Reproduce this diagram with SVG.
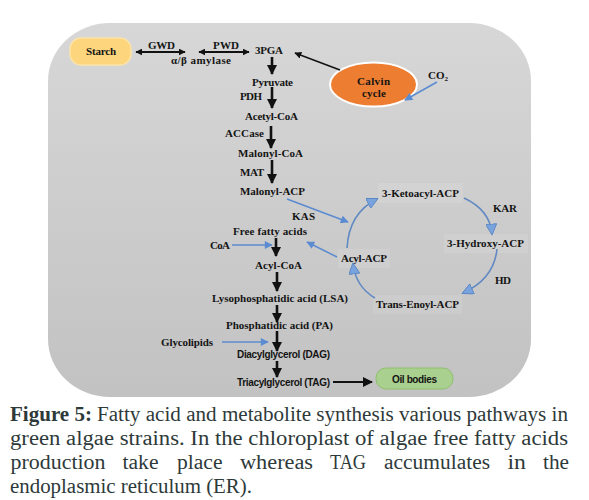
<svg xmlns="http://www.w3.org/2000/svg" width="589" height="500" viewBox="0 0 589 500">
<defs>
<linearGradient id="bg" x1="0" y1="0" x2="0" y2="1">
<stop offset="0" stop-color="#d7d7d7"/>
<stop offset="1" stop-color="#c2c2c2"/>
</linearGradient>
<marker id="bk" viewBox="0 0 10 10" refX="9" refY="5" markerWidth="10" markerHeight="10" markerUnits="userSpaceOnUse" orient="auto"><path d="M0,0 L10,5 L0,10 Z" fill="#111"/></marker>
<marker id="bks" viewBox="0 0 10 10" refX="9" refY="5" markerWidth="7" markerHeight="7" markerUnits="userSpaceOnUse" orient="auto-start-reverse"><path d="M0,0 L10,5 L0,10 Z" fill="#111"/></marker>
<marker id="bl" viewBox="0 0 10 10" refX="9" refY="5" markerWidth="9" markerHeight="8" markerUnits="userSpaceOnUse" orient="auto"><path d="M0,0 L10,5 L0,10 Z" fill="#5b8bd0"/></marker>
<marker id="cy" viewBox="0 0 10 10" refX="9" refY="5" markerWidth="12" markerHeight="11" markerUnits="userSpaceOnUse" orient="auto"><path d="M0,0 L10,5 L0,10 Z" fill="#79a3dc" stroke="#5b86c5" stroke-width="0.8"/></marker>
</defs>
<style>
.t{font-family:"Liberation Serif","Times New Roman",serif;font-weight:bold;font-size:11px;fill:#141414;text-anchor:middle}
.s{font-family:"Liberation Sans",Arial,sans-serif;font-weight:bold;font-size:10px;fill:#141414;text-anchor:middle}
.ba{stroke:#111;stroke-width:2.6;fill:none;marker-end:url(#bk)}
.bd{stroke:#111;stroke-width:1.8;fill:none;marker-end:url(#bks);marker-start:url(#bks)}
.bu{stroke:#5b8bd0;stroke-width:1.5;fill:none;marker-end:url(#bl)}
.cy{stroke:#6189c2;stroke-width:1.6;fill:none;marker-end:url(#cy)}
.hl{fill:#ffffff;opacity:0.1}
.cap{font-family:"Liberation Serif","Times New Roman",serif;font-size:20.5px;fill:#2e3a3a}
</style>
<rect x="48" y="23" width="483" height="374" rx="62" ry="58" fill="url(#bg)"/>
<g id="starch"><rect x="70" y="38" width="61" height="27" rx="11" fill="#fdd57d" stroke="#fbe3a8" stroke-width="1.5"/><text class="t" x="101" y="55" textLength="30">Starch</text></g>
<g id="gwd"><text class="t" x="161.5" y="48.5" textLength="27">GWD</text></g>
<g id="pwd"><text class="t" x="226" y="48.5" textLength="26">PWD</text></g>
<g id="amylase"><text class="t" x="201" y="63.5" textLength="60">α/β amylase</text></g>
<g id="pga"><text class="t" x="269" y="54" textLength="28">3PGA</text></g>
<g id="calvin"><ellipse cx="373.5" cy="84.5" rx="43.5" ry="22" fill="#ed7d31" stroke="#ffffff" stroke-width="2"/><text class="t" x="373.5" y="85" textLength="33">Calvin</text><text class="t" x="374" y="97" textLength="24">cycle</text></g>
<g id="co2"><text class="t" x="428" y="78.5" style="text-anchor:start">CO<tspan font-size="7" dy="2">2</tspan></text></g>
<g id="pyruvate"><text class="t" x="272.5" y="85.5" textLength="41">Pyruvate</text></g>
<g id="pdh"><text class="t" x="251" y="99.5" textLength="22">PDH</text></g>
<g id="acetylcoa"><text class="t" x="271.5" y="119.5" textLength="53">Acetyl-CoA</text></g>
<g id="accase"><text class="t" x="244.5" y="136.5" textLength="39">ACCase</text></g>
<g id="malonylcoa"><text class="t" x="270.5" y="156.5" textLength="65">Malonyl-CoA</text></g>
<g id="mat"><text class="t" x="252" y="175.5" textLength="24">MAT</text></g>
<g id="malonylacp"><text class="t" x="272.5" y="194.5" textLength="65">Malonyl-ACP</text></g>
<g id="kas"><text class="t" x="303.5" y="219.5" textLength="23">KAS</text></g>
<g id="ffa"><text class="t" x="270" y="234.5" textLength="74">Free fatty acids</text></g>
<g id="coa"><text class="t" x="220" y="248.5" textLength="20">CoA</text></g>
<g id="acylcoa"><text class="t" x="278.5" y="268.5" textLength="47">Acyl-CoA</text></g>
<g id="lsa"><text class="t" x="280" y="301.5" textLength="136">Lysophosphatidic acid (LSA)</text></g>
<g id="pa"><text class="t" x="279.5" y="328.5" textLength="107">Phosphatidic acid (PA)</text></g>
<g id="glycolipids"><text class="t" x="187" y="345.5" textLength="52">Glycolipids</text></g>
<g id="dag"><text class="s" x="283.5" y="357.5" textLength="93">Diacylglycerol (DAG)</text></g>
<g id="tag"><text class="s" x="283.5" y="386" textLength="93">Triacylglycerol (TAG)</text></g>
<g id="oilbodies"><rect x="376" y="368" width="77" height="21" rx="10" fill="#a9d08e" stroke="#8fc06e" stroke-width="1"/><text class="s" x="414.5" y="383" textLength="45">Oil bodies</text></g>
<g id="ketoacyl"><rect class="hl" x="378" y="183" width="85" height="20"/><text class="t" x="420.5" y="196.5" textLength="77">3-Ketoacyl-ACP</text></g>
<g id="kar"><text class="t" x="505" y="211.5" textLength="24">KAR</text></g>
<g id="hydroxy"><rect class="hl" x="444" y="234" width="84" height="19"/><text class="t" x="485.5" y="246.5" textLength="77">3-Hydroxy-ACP</text></g>
<g id="hd"><text class="t" x="503" y="283.5" textLength="16">HD</text></g>
<g id="enoyl"><rect class="hl" x="373" y="295" width="89" height="19"/><text class="t" x="417.5" y="307.5" textLength="83">Trans-Enoyl-ACP</text></g>
<g id="acylacp"><rect class="hl" x="338" y="249" width="52" height="19"/><text class="t" x="364" y="261.5" textLength="46">Acyl-ACP</text></g>
<g id="connectors">
<line class="bd" x1="136" y1="52" x2="185" y2="52"/>
<line class="bd" x1="199" y1="52" x2="249" y2="52"/>
<line x1="340" y1="70" x2="295" y2="53" stroke="#111" stroke-width="1.4" marker-end="url(#bks)"/>
<line class="bu" x1="437" y1="82" x2="405" y2="100"/>
<line class="ba" x1="272" y1="57" x2="272" y2="74"/>
<line class="ba" x1="272" y1="87" x2="272" y2="108"/>
<line class="ba" x1="271" y1="126" x2="271" y2="148"/>
<line class="ba" x1="272" y1="160" x2="272" y2="183"/>
<line class="ba" x1="276" y1="238" x2="276" y2="256"/>
<line class="ba" x1="277" y1="272" x2="277" y2="291"/>
<line class="ba" x1="277" y1="305" x2="277" y2="322"/>
<line class="ba" x1="277" y1="331" x2="277" y2="351"/>
<line class="ba" x1="277" y1="361" x2="277" y2="377"/>
<line x1="333" y1="382" x2="372" y2="382" stroke="#111" stroke-width="2" marker-end="url(#bk)"/>
<line class="bu" x1="287" y1="199" x2="348" y2="222"/>
<line class="bu" x1="337" y1="257" x2="307" y2="242"/>
<line class="bu" x1="232" y1="245" x2="272" y2="245"/>
<line class="bu" x1="222" y1="342" x2="268" y2="342"/>
<path class="cy" d="M347,248 Q349,213 377,199"/>
<path class="cy" d="M464,198 Q490,210 492,234"/>
<path class="cy" d="M497,249 Q494,279 463,293"/>
<path class="cy" d="M375,298 Q356,287 353,264"/>
</g>
<g id="caption">
<text class="cap" x="10" y="421" font-weight="bold" textLength="82" lengthAdjust="spacingAndGlyphs">Figure 5:</text>
<text class="cap" x="97" y="421" textLength="471" lengthAdjust="spacingAndGlyphs">Fatty acid and metabolite synthesis various pathways in</text>
<text class="cap" x="10" y="445" textLength="558" lengthAdjust="spacingAndGlyphs">green algae strains. In the chloroplast of algae free fatty acids</text>
<text class="cap" x="10.5" y="469" textLength="95" lengthAdjust="spacingAndGlyphs">production</text>
<text class="cap" x="122.5" y="469" textLength="36" lengthAdjust="spacingAndGlyphs">take</text>
<text class="cap" x="177" y="469" textLength="45.5" lengthAdjust="spacingAndGlyphs">place</text>
<text class="cap" x="240" y="469" textLength="73" lengthAdjust="spacingAndGlyphs">whereas</text>
<text class="cap" x="330" y="469" textLength="36" lengthAdjust="spacingAndGlyphs">TAG</text>
<text class="cap" x="384" y="469" textLength="106" lengthAdjust="spacingAndGlyphs">accumulates</text>
<text class="cap" x="507.5" y="469" textLength="18.5" lengthAdjust="spacingAndGlyphs">in</text>
<text class="cap" x="543" y="469" textLength="26" lengthAdjust="spacingAndGlyphs">the</text>
<text class="cap" x="10" y="493" textLength="242" lengthAdjust="spacingAndGlyphs">endoplasmic reticulum (ER).</text>
</g>
</svg>
